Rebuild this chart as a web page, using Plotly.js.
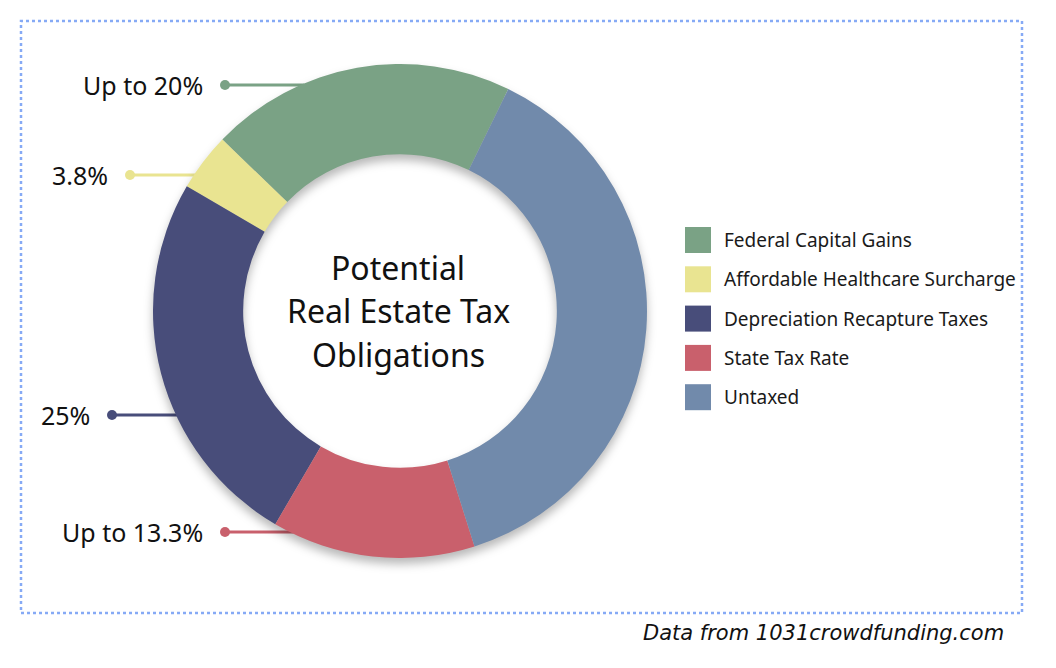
<!DOCTYPE html>
<html>
<head>
<meta charset="utf-8">
<script src="https://cdn.plot.ly/plotly-3.0.1.min.js"></script>
<style>
  html, body { margin: 0; padding: 0; background: #ffffff; }
  #chart { width: 1056px; height: 668px; }
  .pielayer .trace { filter: drop-shadow(0px 6px 5px rgba(0,0,0,0.28)); }
</style>
</head>
<body>
<div id="chart"></div>
<script>
// ---- data ----
const categories = ["Federal Capital Gains", "Affordable Healthcare Surcharge", "Depreciation Recapture Taxes", "State Tax Rate", "Untaxed"];
const values = [20, 3.8, 25, 13.3, 37.9];
const calloutLabels = ["Up to 20%", "3.8%", "25%", "Up to 13.3%"];
const centerTitleLines = ["Potential", "Real Estate Tax", "Obligations"];
const sourceNote = "Data from 1031crowdfunding.com";

// ---- styles / layout positions ----
const colors = ["#7aa285", "#e9e491", "#484d7a", "#c9606c", "#718aab"];
const W = 1056, H = 668;
const cx = 400, cy = 311, R = 247;          // donut centre / outer radius in px
const calloutY = [85, 175, 415, 532];        // px
const calloutDotX = [225, 130, 112, 225];    // px
const legendX = 685, legendY0 = 240, legendStep = 39.3, legendSq = 26;

const px = x => x / W;
const py = y => 1 - y / H;

const trace = {
  type: "pie",
  labels: categories,
  values: values,
  marker: { colors: colors, line: { width: 0 } },
  hole: 0.635,
  sort: false,
  direction: "counterclockwise",
  rotation: -46,
  textinfo: "none",
  hoverinfo: "label+value",
  showlegend: false,
  domain: { x: [px(cx - R), px(cx + R)], y: [py(cy + R), py(cy - R)] }
};

const shapes = [];
const annotations = [];

// dotted frame
shapes.push({
  type: "rect", xref: "paper", yref: "paper",
  x0: px(21), x1: px(1022), y0: py(613), y1: py(21),
  line: { color: "#86aaf5", width: 2.5, dash: "dot" }, layer: "below"
});

// callouts
calloutLabels.forEach((txt, i) => {
  const y = calloutY[i];
  const xe = cx - Math.sqrt(R * R - (y - cy) * (y - cy)) + 4;
  const d = calloutDotX[i];
  shapes.push({
    type: "line", xref: "paper", yref: "paper",
    x0: px(d), x1: px(xe), y0: py(y), y1: py(y),
    line: { color: colors[i], width: 3 }, layer: "below"
  });
  shapes.push({
    type: "circle", xref: "paper", yref: "paper",
    x0: px(d - 5), x1: px(d + 5), y0: py(y + 5), y1: py(y - 5),
    fillcolor: colors[i], line: { width: 0 }
  });
  annotations.push({
    xref: "paper", yref: "paper", x: px(d - 20), y: py(y),
    xanchor: "right", yanchor: "middle", showarrow: false,
    text: txt, font: { family: "Noto Sans", size: 25, color: "#111111" }
  });
});

// centre title
centerTitleLines.forEach((t, i) => {
  annotations.push({
    xref: "paper", yref: "paper", x: px(cx - 2), y: py(cy - 43 + i * 43),
    xanchor: "center", yanchor: "middle", showarrow: false,
    text: t, font: { family: "Noto Sans", size: 32, color: "#111111" }
  });
});

// custom legend
categories.forEach((c, i) => {
  const yc = legendY0 + i * legendStep;
  shapes.push({
    type: "rect", xref: "paper", yref: "paper",
    x0: px(legendX), x1: px(legendX + legendSq),
    y0: py(yc + legendSq / 2), y1: py(yc - legendSq / 2),
    fillcolor: colors[i], line: { width: 0 }
  });
  annotations.push({
    xref: "paper", yref: "paper", x: px(legendX + legendSq + 11), y: py(yc),
    xanchor: "left", yanchor: "middle", showarrow: false,
    text: c, font: { family: "Noto Sans", size: 19, color: "#1a1a1a" }
  });
});

// source note
annotations.push({
  xref: "paper", yref: "paper", x: px(1006), y: py(633),
  xanchor: "right", yanchor: "middle", showarrow: false,
  text: sourceNote,
  font: { family: "DejaVu Sans", style: "italic", size: 21, color: "#111111" }
});

const layout = {
  width: W, height: H,
  margin: { l: 0, r: 0, t: 0, b: 0 },
  paper_bgcolor: "#ffffff",
  showlegend: false,
  shapes: shapes,
  annotations: annotations
};

Plotly.newPlot("chart", [trace], layout, { displayModeBar: false, staticPlot: true });
</script>
</body>
</html>
